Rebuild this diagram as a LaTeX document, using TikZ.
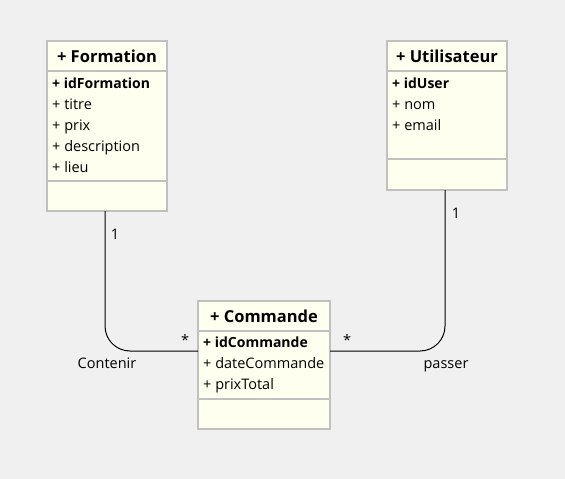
\documentclass[tikz,border=0pt]{standalone}
\usepackage{fontspec}
\setmainfont{Open Sans}

\definecolor{umlfill}{RGB}{255,255,240}
\definecolor{umlline}{RGB}{192,192,192}
\definecolor{canvas}{RGB}{240,240,240}

\begin{document}
\begin{tikzpicture}[x=1pt,y=-1pt,
  box/.style={draw=umlline,line width=2pt,fill=umlfill,inner sep=0pt,outer sep=0pt,anchor=north west},
  head/.style={box,text depth=0pt,font=\fontsize{16.5}{20}\selectfont\bfseries},
  attr/.style={anchor=base west,inner sep=0pt,font=\fontsize{14.5}{16}\selectfont},
  key/.style={attr,font=\fontsize{14}{16}\selectfont\bfseries},
  lbl/.style={inner sep=0pt,anchor=base,font=\fontsize{14.5}{16}\selectfont},
  assoc/.style={draw,line width=1pt,rounded corners=25pt}]
  \fill[canvas] (0,0) rectangle (565,479);
  \useasboundingbox (0,0) rectangle (565,479);

  % Formation
  \node[head,minimum width=120pt,minimum height=30pt] (formationHead) at (47,41) {+ Formation};
  \node[box,minimum width=120pt,minimum height=110pt] (formationAttr) at (formationHead.south west) {};
  \node[box,minimum width=120pt,minimum height=30pt] (formationOps) at (formationAttr.south west) {};
  \node[key] (idFormation) at (52,88) {+ idFormation};
  \node[attr] (titre) at (52,109) {+ titre};
  \node[attr] (prix) at (52,130) {+ prix};
  \node[attr] (description) at (52,151) {+ description};
  \node[attr] (lieu) at (52,172) {+ lieu};

  % Utilisateur
  \node[head,minimum width=120pt,minimum height=30pt] (utilisateurHead) at (387,41) {+ Utilisateur};
  \node[box,minimum width=120pt,minimum height=88pt] (utilisateurAttr) at (utilisateurHead.south west) {};
  \node[box,minimum width=120pt,minimum height=31pt] (utilisateurOps) at (utilisateurAttr.south west) {};
  \node[key] (idUser) at (392,88) {+ idUser};
  \node[attr] (nom) at (392,109) {+ nom};
  \node[attr] (email) at (392,130) {+ email};

  % Commande
  \node[head,minimum width=132pt,minimum height=30pt] (commandeHead) at (198,301) {+ Commande};
  \node[box,minimum width=132pt,minimum height=68pt] (commandeAttr) at (commandeHead.south west) {};
  \node[box,minimum width=132pt,minimum height=30pt] (commandeOps) at (commandeAttr.south west) {};
  \node[key] (idCommande) at (203,347) {+ idCommande};
  \node[attr] (dateCommande) at (203,368) {+ dateCommande};
  \node[attr] (prixTotal) at (203,389) {+ prixTotal};

  % associations
  \coordinate (cIn) at (198,351);
  \coordinate (cOut) at (330,351);
  \draw[assoc] ([xshift=-2pt]formationOps.south) |- (cIn);
  \draw[assoc] ([xshift=-2pt]utilisateurOps.south) |- (cOut);

  \node[lbl] (fOne) at (115,239) {1};
  \node[lbl] (fMany) at (185,345) {*};
  \node[lbl] (contenir) at (107,368) {Contenir};
  \node[lbl] (uOne) at (456,218) {1};
  \node[lbl] (uMany) at (347,345) {*};
  \node[lbl] (passer) at (446,368) {passer};
\end{tikzpicture}
\end{document}
